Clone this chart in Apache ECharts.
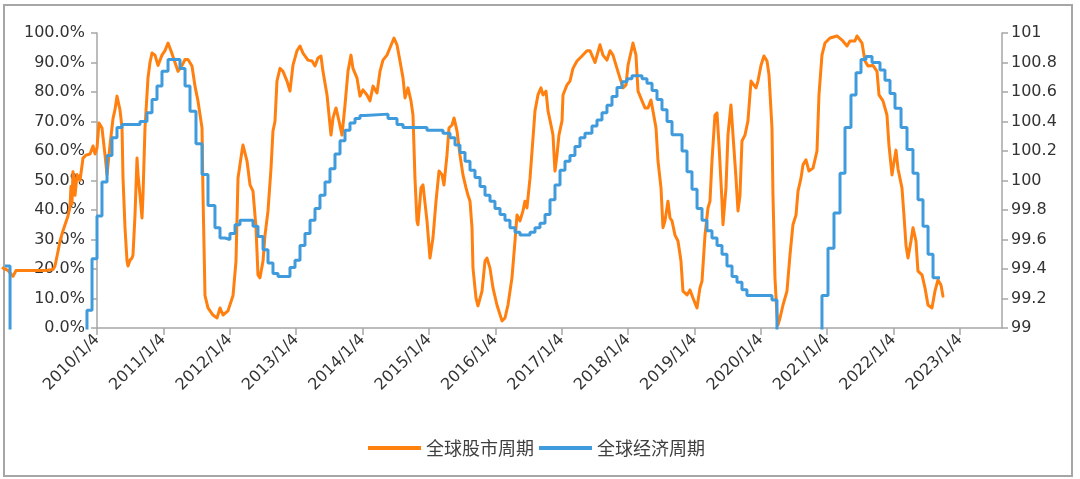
<!DOCTYPE html>
<html>
<head>
<meta charset="utf-8">
<script src="https://cdn.jsdelivr.net/npm/echarts@6/dist/echarts.min.js"></script>
<style>
html,body{margin:0;padding:0;background:#fff;}
#c{width:1080px;height:479px;}
</style>
</head>
<body>
<div id="c"></div>
<script>
// ---- data (x = decimal year) ----
const seriesNames = ['全球股市周期', '全球经济周期'];
const xTickYears = [2010,2011,2012,2013,2014,2015,2016,2017,2018,2019,2020,2021,2022,2023];

// 全球股市周期 (%), left axis
const stockT = [2008.584,2008.659,2008.735,2008.780,2008.991,2009.217,2009.337,2009.367,2009.413,2009.443,2009.488,2009.518,2009.563,2009.593,2009.608,2009.623,2009.638,2009.669,2009.699,2009.744,2009.774,2009.789,2009.834,2009.864,2009.895,2009.940,2009.970,2010.000,2010.030,2010.075,2010.121,2010.151,2010.196,2010.241,2010.271,2010.301,2010.316,2010.346,2010.377,2010.392,2010.422,2010.452,2010.467,2010.497,2010.527,2010.542,2010.572,2010.603,2010.618,2010.648,2010.678,2010.693,2010.723,2010.768,2010.798,2010.829,2010.874,2010.919,2010.979,2011.024,2011.070,2011.130,2011.175,2011.220,2011.280,2011.326,2011.371,2011.431,2011.476,2011.521,2011.582,2011.597,2011.627,2011.672,2011.747,2011.808,2011.853,2011.898,2011.973,2012.049,2012.094,2012.124,2012.184,2012.199,2012.260,2012.305,2012.350,2012.395,2012.425,2012.455,2012.501,2012.531,2012.576,2012.621,2012.651,2012.681,2012.711,2012.757,2012.802,2012.862,2012.907,2012.952,2013.013,2013.058,2013.103,2013.178,2013.239,2013.284,2013.329,2013.374,2013.404,2013.465,2013.525,2013.555,2013.600,2013.645,2013.691,2013.736,2013.781,2013.826,2013.856,2013.917,2013.962,2014.007,2014.067,2014.112,2014.158,2014.218,2014.263,2014.308,2014.368,2014.414,2014.474,2014.519,2014.564,2014.610,2014.640,2014.685,2014.730,2014.760,2014.790,2014.820,2014.835,2014.881,2014.911,2014.971,2015.016,2015.061,2015.107,2015.152,2015.197,2015.227,2015.272,2015.302,2015.348,2015.378,2015.423,2015.468,2015.513,2015.559,2015.589,2015.619,2015.649,2015.664,2015.709,2015.739,2015.800,2015.845,2015.875,2015.920,2015.965,2016.025,2016.101,2016.146,2016.191,2016.251,2016.297,2016.327,2016.372,2016.417,2016.447,2016.477,2016.523,2016.568,2016.598,2016.643,2016.688,2016.718,2016.764,2016.794,2016.839,2016.869,2016.899,2016.929,2016.959,2017.005,2017.020,2017.080,2017.125,2017.170,2017.231,2017.306,2017.381,2017.426,2017.502,2017.577,2017.622,2017.682,2017.728,2017.773,2017.833,2017.878,2017.924,2017.969,2017.999,2018.059,2018.074,2018.119,2018.150,2018.210,2018.255,2018.300,2018.345,2018.375,2018.421,2018.451,2018.496,2018.526,2018.556,2018.601,2018.632,2018.662,2018.707,2018.752,2018.797,2018.827,2018.888,2018.933,2018.978,2019.038,2019.083,2019.114,2019.159,2019.204,2019.234,2019.264,2019.309,2019.340,2019.370,2019.415,2019.430,2019.475,2019.505,2019.550,2019.581,2019.626,2019.656,2019.686,2019.716,2019.761,2019.806,2019.852,2019.882,2019.927,2019.957,2020.002,2020.047,2020.093,2020.123,2020.168,2020.183,2020.213,2020.243,2020.258,2020.289,2020.334,2020.394,2020.439,2020.484,2020.530,2020.560,2020.605,2020.635,2020.680,2020.725,2020.786,2020.846,2020.876,2020.921,2020.966,2021.042,2021.147,2021.223,2021.298,2021.343,2021.418,2021.448,2021.524,2021.569,2021.614,2021.689,2021.750,2021.780,2021.840,2021.900,2021.930,2021.976,2021.991,2022.036,2022.066,2022.126,2022.156,2022.187,2022.217,2022.262,2022.292,2022.337,2022.367,2022.428,2022.473,2022.518,2022.578,2022.623,2022.668,2022.714,2022.744];
const stockV = [20.3,19.5,17.5,19.5,19.5,19.5,19.8,21,26,29.5,33,35,38,41,48,42,53,45,52,50,55,57.6,58.6,58,59,61.7,59,61,69.5,67.8,58.6,51.9,62,71,74,78.6,78,74,67.8,50.8,34,22.7,21,23,23.7,24.7,38,57.6,52,45,37.3,45,67.8,84.7,90,93.2,92.5,89,92.5,94,96.6,93,90,87,89,91,91,88.8,82,77,67.8,45,11,6.8,4.4,3.4,6.8,4.4,5.8,11,22.7,50.8,60,62,56.6,48.5,46.4,34,18,17,22.7,31.5,39.7,54,66.8,70,83.7,88,87,83.7,80.3,89,94,95.6,93.2,90.8,90.5,88.8,91.5,92.2,87,79,65.4,71.2,74.6,70.2,65.4,75.6,87,92.5,88,84.7,78.6,80.7,79,77,82,79.7,87,90.8,92.5,95,98.3,96,90.5,84.7,78,81.4,77,72.2,50.8,36.3,35,47.5,48.5,36.3,23.7,30.5,43,53.2,52,48.5,58.6,67.8,68.8,71.2,66.8,58.6,51.9,47.5,45,43,34,20.3,10.2,7.5,12.5,22.7,23.7,20.3,13.6,7.8,2.4,3.4,7.8,17,29.5,38.3,36.3,39.7,43,40.7,50.8,64.4,73.6,79,81.4,79,80.3,73.6,68.8,65.4,53.2,58.6,65.4,70.2,79,82.4,83.7,88,90.5,92.2,94,94,90,96,92.5,90.8,94,92.5,88,84.7,81.4,82.4,89,95,96.6,92.5,80.3,77,74.6,74.6,77.3,73.6,67.8,56.6,47.5,34,36.3,43,37.3,36.3,31.5,29.5,22.7,12.5,11.2,12.9,10.2,6.8,13.6,15.9,31.5,40.7,43,56.6,72.2,72.9,62,43,35,47.5,65.4,75.6,65.4,50.8,39.7,45,63.4,65.4,70.2,83.7,84,81.4,83.7,89,92.2,90.5,85.8,67.8,45,17,4.4,1,3.4,7.8,12.5,24.7,35,38.3,46.4,50.8,55.3,57,53.2,54.2,60,79,92.5,96.6,98.3,99,97.6,95.6,97.3,97.3,99,96.6,90.5,88.8,89,87,79,77,72.2,62,51.9,54.2,60.3,54,47.5,38.3,28,23.7,29.5,34,29.5,19.3,18,13.6,7.8,6.8,12.5,16.3,14.6,10.8];

// 全球经济周期 (index), right axis; values below 99 fall under the axis minimum
const econT = [2008.614,2008.690,2009.200,2009.849,2009.925,2010.000,2010.075,2010.151,2010.226,2010.301,2010.377,2010.648,2010.753,2010.829,2010.904,2010.979,2011.070,2011.250,2011.326,2011.401,2011.491,2011.582,2011.672,2011.777,2011.853,2011.928,2012.003,2012.079,2012.154,2012.350,2012.425,2012.501,2012.576,2012.651,2012.727,2012.907,2012.983,2013.058,2013.133,2013.209,2013.284,2013.359,2013.435,2013.510,2013.585,2013.661,2013.736,2013.811,2013.887,2013.962,2014.037,2014.384,2014.519,2014.610,2014.971,2015.212,2015.318,2015.393,2015.468,2015.544,2015.619,2015.694,2015.770,2015.845,2015.920,2015.995,2016.071,2016.146,2016.221,2016.297,2016.372,2016.523,2016.598,2016.673,2016.749,2016.824,2016.899,2016.975,2017.050,2017.125,2017.200,2017.276,2017.351,2017.456,2017.532,2017.607,2017.682,2017.758,2017.833,2017.909,2017.984,2018.059,2018.210,2018.285,2018.361,2018.436,2018.511,2018.587,2018.662,2018.813,2018.888,2018.963,2019.039,2019.114,2019.189,2019.264,2019.340,2019.415,2019.490,2019.566,2019.641,2019.716,2019.791,2020.168,2020.243,2020.500,2020.921,2021.012,2021.102,2021.193,2021.268,2021.358,2021.434,2021.509,2021.584,2021.675,2021.795,2021.870,2021.946,2022.021,2022.112,2022.202,2022.292,2022.368,2022.443,2022.519,2022.594,2022.699];
const econV = [99.42,97.6,97.2,99.12,99.47,99.76,99.99,100.17,100.29,100.36,100.38,100.40,100.46,100.55,100.64,100.74,100.82,100.76,100.64,100.47,100.25,100.04,99.83,99.68,99.61,99.60,99.64,99.70,99.73,99.69,99.62,99.53,99.44,99.37,99.35,99.41,99.46,99.56,99.64,99.73,99.81,99.90,99.99,100.08,100.18,100.27,100.34,100.39,100.42,100.44,100.45,100.42,100.38,100.36,100.34,100.32,100.29,100.24,100.19,100.13,100.07,100.02,99.96,99.90,99.86,99.81,99.77,99.73,99.68,99.65,99.63,99.65,99.68,99.71,99.77,99.87,99.97,100.07,100.13,100.17,100.23,100.29,100.32,100.37,100.41,100.46,100.51,100.57,100.63,100.67,100.69,100.71,100.69,100.66,100.61,100.55,100.48,100.40,100.31,100.20,100.06,99.94,99.81,99.73,99.66,99.61,99.56,99.50,99.42,99.35,99.31,99.26,99.22,99.19,97.0,97.8,99.22,99.54,99.78,100.05,100.36,100.58,100.73,100.82,100.84,100.80,100.75,100.68,100.59,100.49,100.36,100.21,100.05,99.87,99.69,99.50,99.34,99.34];

const stockData = stockT.map((t, i) => [t, stockV[i]]);
const econData = econT.map((t, i) => [t, econV[i]]);

const AXIS_COLOR = '#A6A6A6';
const LABEL_COLOR = '#333333';
const FONT = 'DejaVu Sans';

const chart = echarts.init(document.getElementById('c'), null, {renderer: 'canvas'});
chart.setOption({
  animation: false,
  backgroundColor: '#ffffff',
  graphic: [{
    type: 'rect', shape: {x: 4, y: 5, width: 1068, height: 471},
    style: {fill: 'none', stroke: '#A6A6A6', lineWidth: 2}, silent: true, z: -1
  }],
  grid: [
    {left: 97, right: 78, top: 33, bottom: 151},
    {left: 0, right: 78, top: 33, bottom: 151}
  ],
  legend: {
    left: 363, top: 434, itemGap: 5, itemWidth: 53, itemHeight: 4, icon: 'rect',
    textStyle: {fontFamily: 'Noto Sans CJK SC', fontSize: 18, color: '#404040'},
    data: seriesNames
  },
  xAxis: [
    {
      gridIndex: 0, type: 'value', min: 2010, max: 2023.633, interval: 1,
      splitLine: {show: false},
      axisLine: {show: true, lineStyle: {color: AXIS_COLOR, width: 1.5}},
      axisTick: {show: true, length: 7, lineStyle: {color: AXIS_COLOR, width: 1.5}, customValues: xTickYears},
      axisLabel: {
        customValues: xTickYears, rotate: 45, margin: 9,
        color: LABEL_COLOR, fontFamily: FONT, fontSize: 16,
        formatter: v => Math.round(v) + '/1/4'
      }
    },
    {
      gridIndex: 1, type: 'value', min: 2008.5388, max: 2023.633, show: false
    }
  ],
  yAxis: [
    {
      gridIndex: 0, type: 'value', min: 0, max: 100, interval: 10, position: 'left',
      splitLine: {show: false},
      axisLine: {show: true, lineStyle: {color: AXIS_COLOR, width: 1.5}},
      axisTick: {show: true, length: 6, lineStyle: {color: AXIS_COLOR, width: 1.5}},
      axisLabel: {color: LABEL_COLOR, fontFamily: FONT, fontSize: 16, margin: 12,
        formatter: v => v.toFixed(1) + '%'}
    },
    {
      gridIndex: 0, type: 'value', min: 99, max: 101, interval: 0.2, position: 'right',
      splitLine: {show: false},
      axisLine: {show: true, lineStyle: {color: AXIS_COLOR, width: 1.5}},
      axisTick: {show: true, length: 6, lineStyle: {color: AXIS_COLOR, width: 1.5}},
      axisLabel: {color: LABEL_COLOR, fontFamily: FONT, fontSize: 16, margin: 9,
        formatter: v => String(Number(v.toFixed(1)))}
    },
    {gridIndex: 1, type: 'value', min: 0, max: 100, show: false, splitLine: {show: false}},
    {gridIndex: 1, type: 'value', min: 99, max: 101, show: false, splitLine: {show: false}}
  ],
  series: [
    {
      name: seriesNames[0], type: 'line', xAxisIndex: 1, yAxisIndex: 2,
      data: stockData, showSymbol: false, symbol: 'none', clip: true,
      color: '#FF7F0F',
      lineStyle: {width: 3, color: '#FF7F0F', join: 'round', cap: 'round'}
    },
    {
      name: seriesNames[1], type: 'line', xAxisIndex: 1, yAxisIndex: 3,
      data: econData, step: 'end', showSymbol: false, symbol: 'none', clip: true,
      color: '#3F9BDB',
      lineStyle: {width: 3, color: '#3F9BDB'}
    }
  ]
});
</script>
</body>
</html>
